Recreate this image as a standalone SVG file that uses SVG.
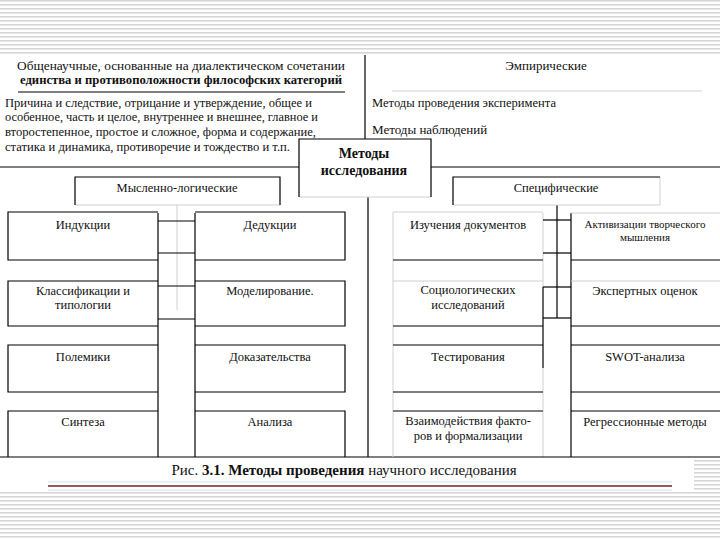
<svg xmlns="http://www.w3.org/2000/svg" width="720" height="540" viewBox="0 0 720 540">
<style>
.t{font-family:"Liberation Serif","Times New Roman",serif;font-size:13px;fill:#111}
.k{font-size:12.5px}
.c{text-anchor:middle}
.b{font-weight:bold}
.s{font-size:11px}
.ln{stroke:#000;stroke-width:1.2;fill:none}
.fa{stroke:#d0d0d0;stroke-width:1;fill:none}
</style>
<defs>
<pattern id="stripes" width="8" height="4" patternUnits="userSpaceOnUse">
<rect width="8" height="4" fill="#fff"/>
<rect width="8" height="1.6" fill="#d6d6d6"/>
</pattern>
</defs>
<rect width="720" height="540" fill="#fff"/>
<rect x="0" y="0" width="720" height="54" fill="url(#stripes)"/>
<rect x="0" y="492" width="720" height="48" fill="url(#stripes)"/>
<rect x="694" y="460" width="26" height="30" fill="url(#stripes)"/>

<g id="general">
<text class="t c" x="181" y="70" textLength="328" lengthAdjust="spacingAndGlyphs">Общенаучные, основанные на диалектическом сочетании</text>
<text class="t c b" x="181" y="84" textLength="322" lengthAdjust="spacingAndGlyphs" style="font-weight:600">единства и противоположности философских категорий</text>
<line class="ln" x1="18" y1="92" x2="345" y2="92"/>
<text class="t" x="5" y="107" textLength="307" lengthAdjust="spacingAndGlyphs">Причина и следствие, отрицание и утверждение, общее и</text>
<text class="t" x="5" y="121" textLength="313" lengthAdjust="spacingAndGlyphs">особенное, часть и целое, внутреннее и внешнее, главное и</text>
<text class="t" x="5" y="136" textLength="311" lengthAdjust="spacingAndGlyphs">второстепенное, простое и сложное, форма и содержание,</text>
<text class="t" x="5" y="151" textLength="285" lengthAdjust="spacingAndGlyphs">статика и динамика, противоречие и тождество и т.п.</text>
</g>

<g id="empirical">
<text class="t c" x="546" y="70">Эмпирические</text>
<line class="fa" x1="392" y1="91" x2="702" y2="91"/>
<text class="t" x="372" y="107" textLength="184" lengthAdjust="spacingAndGlyphs">Методы проведения эксперимента</text>
<text class="t" x="372" y="134">Методы наблюдений</text>
</g>

<g id="connectors">
<line class="ln" x1="365" y1="55" x2="365" y2="139"/>
<line class="ln" x1="0" y1="167" x2="299" y2="167"/>
<line class="ln" x1="431" y1="167" x2="720" y2="167"/>
<line class="ln" x1="368" y1="197" x2="368" y2="457"/>
<line class="fa" x1="177" y1="205" x2="177" y2="310"/>
<line class="ln" x1="158" y1="213" x2="158" y2="457"/>
<line class="ln" x1="195" y1="213" x2="195" y2="457"/>
<line class="ln" x1="158" y1="221" x2="195" y2="221"/>
<line class="ln" x1="158" y1="253" x2="195" y2="253"/>
<line class="ln" x1="158" y1="286" x2="195" y2="286"/>
<line class="ln" x1="158" y1="319" x2="195" y2="319"/>
<line class="ln" x1="557" y1="205" x2="557" y2="318"/>
<line class="ln" x1="571" y1="213" x2="571" y2="457"/>
<line class="ln" x1="543" y1="287" x2="543" y2="368"/>
<line class="fa" x1="543" y1="213" x2="543" y2="287"/>
<line class="fa" x1="543" y1="368" x2="543" y2="457"/>
<line class="ln" x1="543" y1="220" x2="571" y2="220"/>
<line class="ln" x1="543" y1="253" x2="571" y2="253"/>
<line class="ln" x1="543" y1="287" x2="571" y2="287"/>
<line class="ln" x1="543" y1="318" x2="571" y2="318"/>
<line class="ln" x1="0" y1="457" x2="720" y2="457"/>
</g>

<g id="methods">
<line class="fa" x1="299" y1="197" x2="431" y2="197"/>
<path class="ln" d="M299,197 V139 H431 V197"/>
<text class="t c b" x="364" y="158" style="font-size:14px">Методы</text>
<text class="t c b" x="364" y="175" style="font-size:14px">исследования</text>
</g>

<g id="logical">
<line class="fa" x1="75" y1="205" x2="280" y2="205"/>
<path class="ln" d="M75,205 V177 H280 V205"/>
<text class="t c k" x="177" y="192">Мысленно-логические</text>
</g>

<g id="specific">
<line class="fa" x1="453" y1="205" x2="660" y2="205"/>
<line class="fa" x1="660" y1="177" x2="660" y2="205"/>
<path class="ln" d="M453,205 V177 H660"/>
<text class="t c k" x="556" y="192">Специфические</text>
</g>

<g id="induction">
<path class="ln" d="M158,212 H8 V260 H158"/>
<text class="t c k" x="83" y="229">Индукции</text>
</g>
<g id="deduction">
<path class="ln" d="M195,212 H345 V260 H195"/>
<text class="t c k" x="270" y="229">Дедукции</text>
</g>
<g id="classification">
<path class="ln" d="M158,281 H8 V326 H158"/>
<text class="t c k" x="83" y="295">Классификации и</text>
<text class="t c k" x="83" y="309">типологии</text>
</g>
<g id="modeling">
<path class="ln" d="M195,281 H345 V326 H195"/>
<text class="t c k" x="270" y="295">Моделирование.</text>
</g>
<g id="polemics">
<path class="ln" d="M158,345 H8 V392 H158"/>
<text class="t c k" x="83" y="361">Полемики</text>
</g>
<g id="proof">
<path class="ln" d="M195,345 H345 V392 H195"/>
<text class="t c k" x="270" y="361">Доказательства</text>
</g>
<g id="synthesis">
<path class="ln" d="M158,411 H8 V457"/>
<text class="t c k" x="83" y="426">Синтеза</text>
</g>
<g id="analysis">
<path class="ln" d="M195,411 H345 V457"/>
<text class="t c k" x="270" y="426">Анализа</text>
</g>

<g id="documents">
<line class="fa" x1="393" y1="212" x2="543" y2="212"/>
<line class="fa" x1="393" y1="212" x2="393" y2="457"/>
<line class="ln" x1="393" y1="260" x2="543" y2="260"/>
<text class="t c k" x="468" y="229">Изучения документов</text>
</g>
<g id="creative">
<line class="fa" x1="571" y1="213" x2="720" y2="213"/>
<line class="ln" x1="571" y1="260" x2="720" y2="260"/>
<text class="t c s" x="645" y="228">Активизации творческого</text>
<text class="t c s" x="645" y="241">мышления</text>
</g>
<g id="sociological">
<line class="fa" x1="393" y1="281" x2="543" y2="281"/>
<line class="ln" x1="393" y1="326" x2="543" y2="326"/>
<text class="t c k" x="468" y="294">Социологических</text>
<text class="t c k" x="468" y="309">исследований</text>
</g>
<g id="expert">
<line class="fa" x1="571" y1="281" x2="720" y2="281"/>
<line class="ln" x1="571" y1="326" x2="720" y2="326"/>
<text class="t c k" x="645" y="295">Экспертных оценок</text>
</g>
<g id="testing">
<path class="ln" d="M393,345 H543 M393,392 H543"/>
<text class="t c k" x="468" y="361">Тестирования</text>
</g>
<g id="swot">
<path class="ln" d="M571,345 H720 M571,392 H720"/>
<text class="t c k" x="645" y="361">SWOT-анализа</text>
</g>
<g id="interaction">
<path class="ln" d="M393,411 H543"/>
<text class="t c k" x="468" y="425">Взаимодействия факто-</text>
<text class="t c k" x="468" y="440">ров и формализации</text>
</g>
<g id="regression">
<path class="ln" d="M571,411 H720"/>
<text class="t c k" x="645" y="426">Регрессионные методы</text>
</g>

<g id="caption">
<text class="t c" x="344" y="475" style="font-size:15px">Рис. <tspan class="b">3.1. Методы проведения</tspan> научного исследования</text>
<line x1="48" y1="482" x2="672" y2="482" stroke="#cfe0ea" stroke-width="1"/>
<line x1="48" y1="486" x2="672" y2="486" stroke="#7a1f1f" stroke-width="1.5"/>
<line x1="48" y1="490" x2="672" y2="490" stroke="#cfe0ea" stroke-width="1"/>
</g>
</svg>
